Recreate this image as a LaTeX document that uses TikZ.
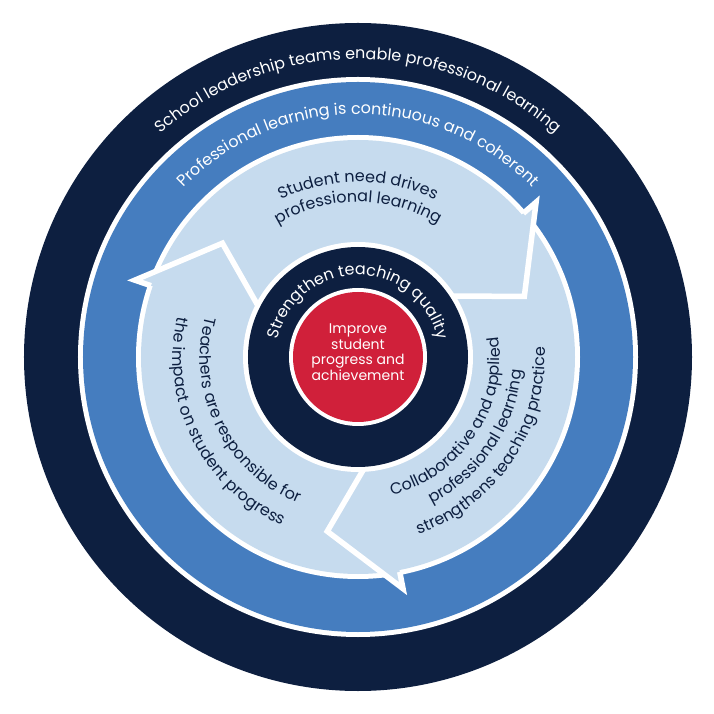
\documentclass[tikz,border=0pt]{standalone}
\usepackage{fontspec}
\setmainfont{Poppins}
\usetikzlibrary{decorations.text}

\definecolor{navy}{RGB}{13,31,64}
\definecolor{midblue}{RGB}{69,125,191}
\definecolor{paleblue}{RGB}{198,219,238}
\definecolor{crimson}{RGB}{208,32,58}

\tikzset{
  chevron/.style={white, line width=5.5pt, line join=miter, miter limit=12},
  arctext/.style={decorate, decoration={text along path, text align=center, text color=#1}},
}
\newcommand\ringfont{\fontsize{16}{19}\selectfont}

\begin{document}
\begin{tikzpicture}[x=1pt,y=1pt]
\useasboundingbox (-358,-357) rectangle (355,357);

% rings
\fill[navy] (0,0) circle (334);
\fill[white] (0,0) circle (280);
\fill[midblue] (0,0) circle (275);
\fill[white] (0,0) circle (222);
\fill[paleblue] (0,0) circle (217);

% arrow heads / chevron separators
\foreach \t in {20,140,260}{
  \fill[paleblue] (\t+21:200) -- (\t+21:236) -- (\t:177) -- cycle;
  \draw[chevron] (\t+21:219) -- (\t+21:236) -- (\t:177) -- (\t+13:112);
}

% inner circles
\fill[white] (0,0) circle (115);
\fill[navy] (0,0) circle (110);
\fill[white] (0,0) circle (69);
\fill[crimson] (0,0) circle (65);

% ring texts (clockwise over the top)
\path[arctext=white, decoration={text={|\ringfont|School leadership teams enable professional learning}}]
  (180:298) arc[start angle=180, end angle=0, radius=298];
\path[arctext=white, decoration={text={|\ringfont|Professional learning is continuous and coherent}}]
  (180:243) arc[start angle=180, end angle=0, radius=243];
\path[arctext=white, decoration={text={|\ringfont|Strengthen teaching quality}}]
  (200:82) arc[start angle=200, end angle=-20, radius=82];

% top arrow
\path[arctext=navy, decoration={text={|\ringfont|Student need drives}}]
  (180:175) arc[start angle=180, end angle=0, radius=175];
\path[arctext=navy, decoration={text={|\ringfont|professional learning}}]
  (180:155) arc[start angle=180, end angle=0, radius=155];

% right arrow (counter-clockwise, letters toward centre)
\path[arctext=navy, decoration={text={|\ringfont|Collaborative and applied}}]
  (-124:142) arc[start angle=-124, end angle=56, radius=142];
\path[arctext=navy, decoration={text={|\ringfont|professional learning}}]
  (-124:164) arc[start angle=-124, end angle=56, radius=164];
\path[arctext=navy, decoration={text={|\ringfont|strengthens teaching practice}}]
  (-124:187) arc[start angle=-124, end angle=56, radius=187];

% left arrow
\path[arctext=navy, decoration={text={|\ringfont|Teachers are responsible for}}]
  (116.5:158) arc[start angle=116.5, end angle=296.5, radius=158];
\path[arctext=navy, decoration={text={|\ringfont|the impact on student progress}}]
  (116.5:185) arc[start angle=116.5, end angle=296.5, radius=185];

% centre
\node[text=white, align=center, font=\fontsize{14}{15.6}\selectfont] (core) at (0,5)
  {Improve\\student\\progress and\\achievement};
\end{tikzpicture}
\end{document}
